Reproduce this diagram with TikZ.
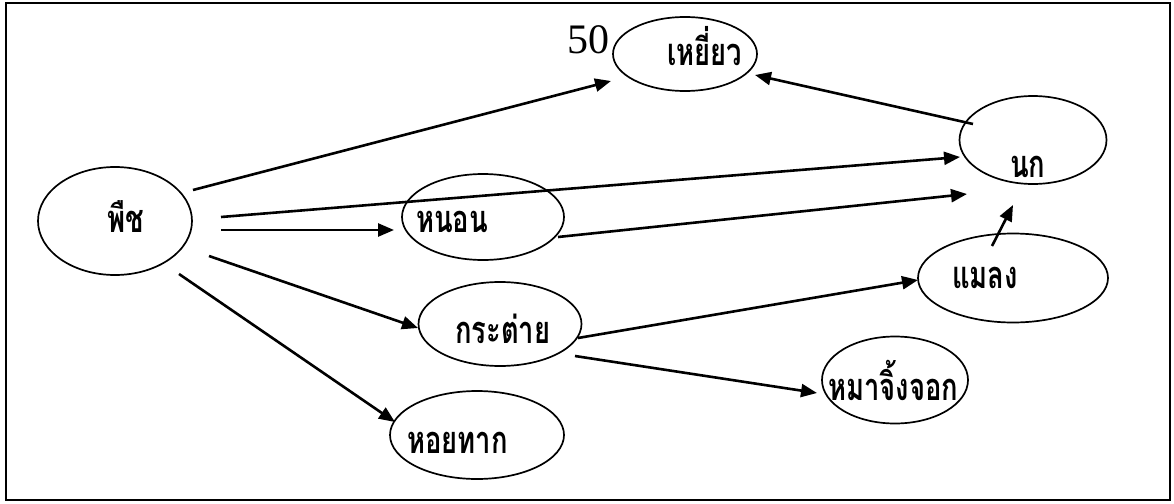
\documentclass[tikz,border=0pt]{standalone}
\usepackage{fontspec}
\newfontfamily\thaifont[Script=Thai,FakeStretch=0.72]{Loma}
\newfontfamily\numfont{Liberation Serif}
\usetikzlibrary{shapes.geometric,arrows.meta}
\begin{document}
\begin{tikzpicture}[x=1pt,y=-1pt,
  eco/.style 2 args={draw, ellipse, line width=1.7pt, inner sep=0pt, minimum width=#1pt, minimum height=#2pt},
  lbl/.style={anchor=base west, inner sep=0pt, font=\thaifont\bfseries\fontsize{38}{40}\selectfont},
  feed/.style={line width=2.6pt, -{Triangle[length=16pt,width=13pt]}}]
\useasboundingbox (0,0) rectangle (1174,503);
\draw[line width=2pt] (6,3) rectangle (1170,500);
% ellipses
\node[eco={154}{108}] (plant) at (115,221) {};
\node[eco={144}{74}] (hawk) at (685,54) {};
\node[eco={147}{88}] (bird) at (1033,140) {};
\node[eco={162}{86}] (worm) at (483,217) {};
\node[eco={190}{89}] (insect) at (1013,278) {};
\node[eco={163}{84}] (rabbit) at (500,324) {};
\node[eco={146}{87}] (fox) at (895,380) {};
\node[eco={174}{88}] (snail) at (477,435) {};
% labels
\node[lbl] (plantT) at (107,232) {พืช};
\node[lbl] (hawkT) at (667,65) {เหยี่ยว};
\node[lbl] (wormT) at (416,232) {หนอน};
\node[lbl] (birdT) at (1010,177) {นก};
\node[lbl] (insectT) at (952,288) {แมลง};
\node[lbl] (rabbitT) at (455,343) {กระต่าย};
\node[lbl] (foxT) at (828,400) {หมาจิ้งจอก};
\node[lbl] (snailT) at (407,453) {หอยทาก};
\node[anchor=base west, inner sep=0pt, font=\numfont\fontsize{42}{44}\selectfont] (num) at (567,53) {50};
% connector ends
\coordinate (plant-o1) at (193,190);
\coordinate (plant-o2) at (221,217);
\coordinate (plant-o3) at (221,230);
\coordinate (plant-o4) at (209,256);
\coordinate (plant-o5) at (179,274);
\coordinate (hawk-i1) at (611,81);
\coordinate (hawk-i2) at (755,75);
\coordinate (bird-i1) at (960,157);
\coordinate (bird-i2) at (967,194);
\coordinate (bird-i3) at (1013,205);
\coordinate (bird-o1) at (973,124);
\coordinate (worm-i1) at (394,230);
\coordinate (worm-o1) at (558,237);
\coordinate (rabbit-i1) at (418,328);
\coordinate (rabbit-o1) at (578,338);
\coordinate (rabbit-o2) at (575,356);
\coordinate (snail-i1) at (395,422);
\coordinate (insect-i1) at (918,280);
\coordinate (insect-o1) at (992,246);
\coordinate (fox-i1) at (817,393);
% connectors
\draw[feed] (plant-o1) -- (hawk-i1);
\draw[feed] (plant-o2) -- (bird-i1);
\draw[feed] (plant-o3) -- (worm-i1);
\draw[feed] (plant-o4) -- (rabbit-i1);
\draw[feed] (plant-o5) -- (snail-i1);
\draw[feed] (worm-o1) -- (bird-i2);
\draw[feed] (bird-o1) -- (hawk-i2);
\draw[feed] (insect-o1) -- (bird-i3);
\draw[feed] (rabbit-o1) -- (insect-i1);
\draw[feed] (rabbit-o2) -- (fox-i1);
\end{tikzpicture}
\end{document}
